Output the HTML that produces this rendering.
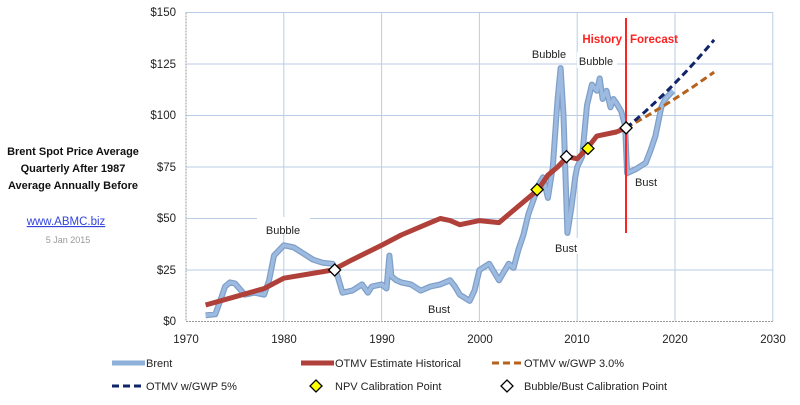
<!DOCTYPE html>
<html><head><meta charset="utf-8"><style>
body{margin:0;background:#fff;}
svg{display:block;font-family:"Liberation Sans",sans-serif;}
</style></head><body>
<svg id="s" width="800" height="405" viewBox="0 0 800 405">
<g id="grid" stroke="#b9cde6" stroke-width="1"></g>
<g font-size="11.5" fill="#222" text-anchor="end">
<text x="176" y="16">$150</text><text x="176" y="68">$125</text><text x="176" y="119">$100</text>
<text x="176" y="171">$75</text><text x="176" y="222">$50</text><text x="176" y="274">$25</text><text x="176" y="325">$0</text>
</g>
<g font-size="11.5" fill="#222" text-anchor="middle">
<text x="186" y="343">1970</text><text x="284" y="343">1980</text><text x="382" y="343">1990</text><text x="480" y="343">2000</text>
<text x="577" y="343">2010</text><text x="675" y="343">2020</text><text x="773" y="343">2030</text>
</g>
<g font-size="11" fill="#111" font-weight="bold" text-anchor="middle">
<text x="73" y="155">Brent Spot Price Average</text>
<text x="73" y="172">Quarterly After 1987</text>
<text x="73" y="189">Average Annually Before</text>
</g>
<text x="66" y="225" font-size="11.5" fill="#3344dd" text-anchor="middle" text-decoration="underline">www.ABMC.biz</text>
<text x="68" y="243" font-size="9" fill="#999" text-anchor="middle">5 Jan 2015</text>
<g id="lines"></g>
<g font-size="11" fill="#222" text-anchor="middle">
<rect x="257" y="217" width="53" height="16" fill="#fff"/><text x="283" y="234">Bubble</text>
<text x="439" y="313">Bust</text>
<rect x="530" y="45" width="40" height="16" fill="#fff"/><text x="549" y="58">Bubble</text>
<rect x="577" y="52" width="40" height="16" fill="#fff"/><text x="596" y="65">Bubble</text>
<rect x="551" y="238" width="30" height="16" fill="#fff"/><text x="566" y="252">Bust</text>
<text x="646" y="186">Bust</text>
</g>
<g font-size="11.5" fill="#ff2020" font-weight="bold">
<text x="622" y="43" text-anchor="end">History</text>
<text x="630" y="43">Forecast</text>
</g>
<line x1="626" y1="18" x2="626" y2="233" stroke="#ff2222" stroke-width="2"/>
<g id="marks"></g>
<g font-size="11" fill="#222">
<line x1="112" y1="363" x2="145" y2="363" stroke="#8fb0d8" stroke-width="5"/><text x="146" y="367">Brent</text>
<line x1="301" y1="363" x2="334" y2="363" stroke="#b0403a" stroke-width="5"/><text x="335" y="367">OTMV Estimate Historical</text>
<line x1="492" y1="363" x2="523" y2="363" stroke="#b5621c" stroke-width="3" stroke-dasharray="7,4"/><text x="524" y="367">OTMV w/GWP 3.0%</text>
<line x1="112" y1="386" x2="145" y2="386" stroke="#10246a" stroke-width="3" stroke-dasharray="7,4"/><text x="146" y="390">OTMV w/GWP 5%</text>
<polygon points="316,380 322,386 316,392 310,386" fill="#ffff00" stroke="#000" stroke-width="1.3"/><text x="335" y="390">NPV Calibration Point</text>
<polygon points="507,380 513,386 507,392 501,386" fill="#fff" stroke="#000" stroke-width="1.3"/><text x="524" y="390">Bubble/Bust Calibration Point</text>
</g>
</svg>
<script>
const X=y=>186+(y-1970)*9.78, Y=v=>321.5-v*2.06;
const NS="http://www.w3.org/2000/svg";
function el(p,t,a){const e=document.createElementNS(NS,t);for(const k in a)e.setAttribute(k,a[k]);document.getElementById(p).appendChild(e);return e;}
for(let v=0;v<=150;v+=25)el("grid","line",{x1:186,x2:773,y1:Y(v),y2:Y(v),stroke:v==0?"#999":"#b9cde6","stroke-dasharray":v==0?"2,1":""});
for(let y=1970;y<=2030;y+=10)el("grid","line",{x1:X(y),x2:X(y),y1:Y(150),y2:Y(0),stroke:y==1970?"#999":"#b9cde6","stroke-dasharray":y==1970?"2,1":""});
const brent=[[1972,3],[1973,3.5],[1973.5,10],[1974,17],[1974.5,19],[1975,18.5],[1976,13],[1977,14],[1978,13],[1978.5,20],[1979,32],[1980,37],[1981,36],[1982,33],[1983,30],[1984,28.5],[1985,28],[1985.5,22],[1986,14],[1987,15],[1988,18],[1988.6,14],[1989,17],[1990,18],[1990.5,16],[1990.8,32],[1991,22],[1991.5,20],[1992,19],[1993,18],[1994,15],[1995,17],[1996,18],[1997,20],[1997.5,17],[1998,13],[1999,10],[1999.5,15],[2000,25],[2001,28],[2001.5,24],[2002,20],[2002.5,24],[2003,28],[2003.5,26],[2004,35],[2004.5,42],[2005,52],[2005.6,60],[2006,66],[2006.5,70],[2007,60],[2007.5,75],[2008,108],[2008.3,123],[2008.6,100],[2009,43],[2009.4,55],[2009.8,70],[2010,75],[2010.5,80],[2011,105],[2011.5,115],[2012,112],[2012.3,118],[2012.6,108],[2013,112],[2013.4,104],[2013.7,108],[2014,106],[2014.5,102],[2014.9,95],[2015.1,72],[2016,74],[2017,77],[2017.5,83],[2018,90],[2018.6,104],[2019,108],[2019.8,112]];
const otmv=[[1972,8],[1975,12],[1978,16],[1980,21],[1985,25],[1987,30],[1990,37],[1992,42],[1995,48],[1996,50],[1997,49],[1998,47],[2000,49],[2002,48],[2003,52],[2004,56],[2006,64],[2007,71],[2008,75],[2009,80],[2010,79],[2011,84],[2012,90],[2014,92],[2015,94]];
const pts=a=>a.map(p=>X(p[0]).toFixed(1)+","+Y(p[1]).toFixed(1)).join(" ");
el("lines","polyline",{points:pts(brent),fill:"none",stroke:"#7f9fc8","stroke-width":6,"stroke-linejoin":"round"});
el("lines","polyline",{points:pts(brent),fill:"none",stroke:"#9dbbe0","stroke-width":3.5,"stroke-linejoin":"round"});
el("lines","polyline",{points:pts(otmv),fill:"none",stroke:"#b0403a","stroke-width":5,"stroke-linejoin":"round"});
const f3=[],f5=[];for(let y=2015;y<=2024.01;y+=0.5){f3.push([y,94*Math.pow(1.0285,y-2015)]);f5.push([y,94*Math.pow(1.0425,y-2015)]);}
el("lines","polyline",{points:pts(f3),fill:"none",stroke:"#b5621c","stroke-width":3,"stroke-dasharray":"7,4"});
el("lines","polyline",{points:pts(f5),fill:"none",stroke:"#10246a","stroke-width":3,"stroke-dasharray":"7,4"});
function dia(y,v,c){const x=X(y),yy=Y(v);el("marks","polygon",{points:`${x},${yy-6} ${x+6},${yy} ${x},${yy+6} ${x-6},${yy}`,fill:c,stroke:"#000","stroke-width":1.3});}
dia(1985.2,25,"#fff");dia(2008.9,80,"#fff");dia(2015,94,"#fff");dia(2005.9,64,"#ffff00");dia(2011.1,84,"#ffff00");
</script>
</body></html>
